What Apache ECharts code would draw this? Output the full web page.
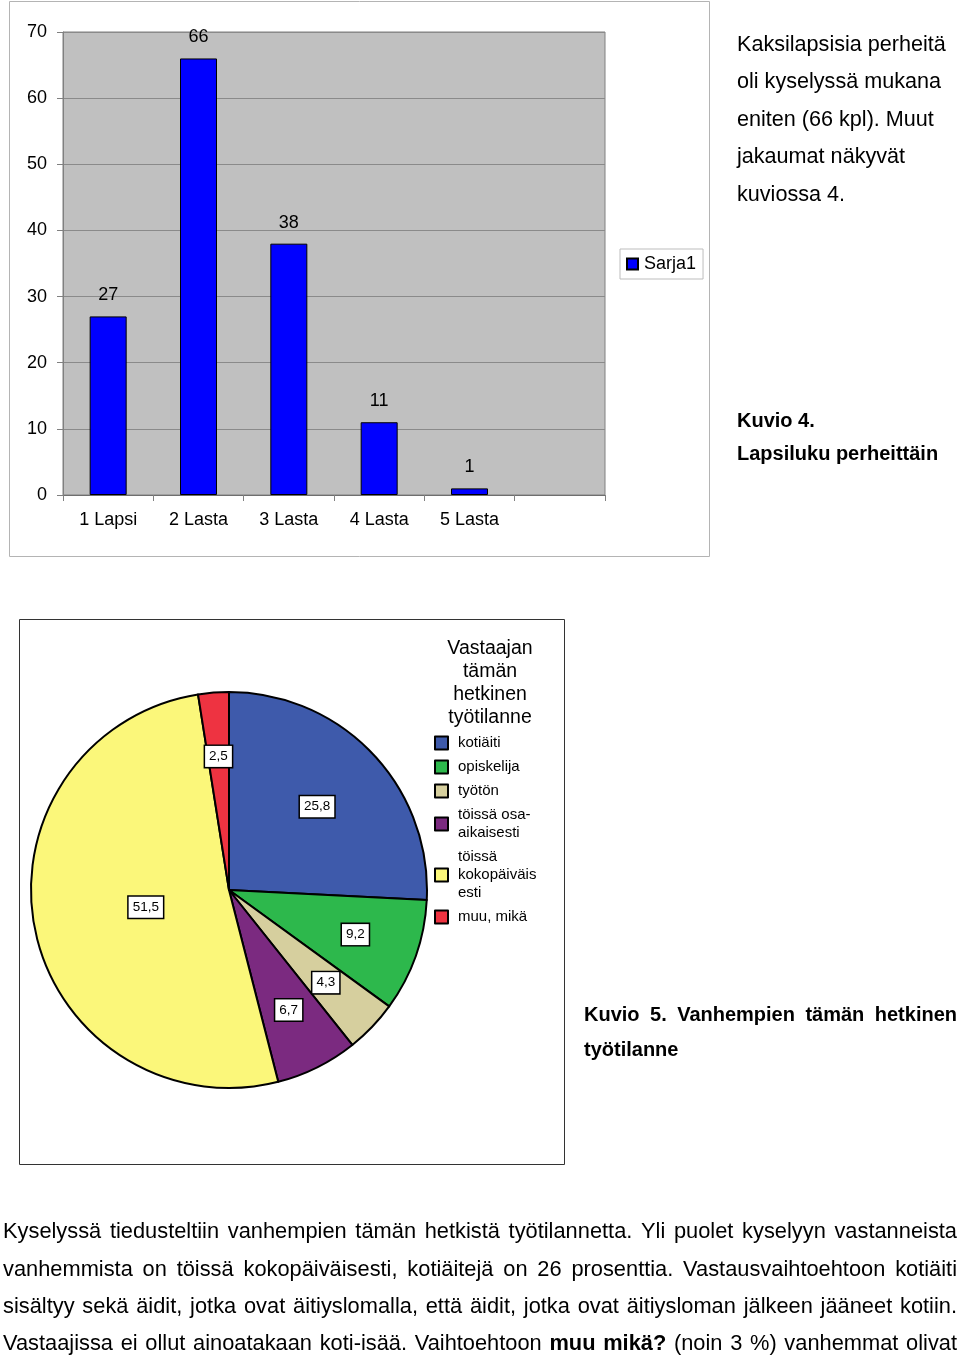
<!DOCTYPE html>
<html><head><meta charset="utf-8">
<script src="https://cdn.jsdelivr.net/npm/echarts/dist/echarts.min.js"></script>
<style>html,body{margin:0;padding:0;background:#fff}#c{width:960px;height:1360px}</style>
</head><body><div id="c"></div>
<script>
// ---------- data ----------
const barCategories = ['1 Lapsi', '2 Lasta', '3 Lasta', '4 Lasta', '5 Lasta', ''];
const barValues = [27, 66, 38, 11, 1, null];
const barSeriesName = 'Sarja1';
const yMin = 0, yMax = 70, yStep = 10;

const pieCategories = ['kotiäiti', 'opiskelija', 'työtön', 'töissä osa-aikaisesti', 'töissä kokopäiväisesti', 'muu, mikä'];
const pieLegendLabels = ['kotiäiti', 'opiskelija', 'työtön', 'töissä osa-\naikaisesti', 'töissä\nkokopäiväis\nesti', 'muu, mikä'];
const pieValues = [25.8, 9.2, 4.3, 6.7, 51.5, 2.5];
const pieColors = ['#3E5AAB', '#2DB84C', '#D6CF9E', '#7B2A80', '#FBF77A', '#EE3341'];
const pieTitle = 'Vastaajan\ntämän\nhetkinen\ntyötilanne';

const sideText = ['Kaksilapsisia perheitä', 'oli kyselyssä mukana', 'eniten (66 kpl). Muut', 'jakaumat näkyvät', 'kuviossa 4.'];
const caption4 = ['Kuvio 4.', 'Lapsiluku perheittäin'];
const caption5 = ['Kuvio 5. Vanhempien tämän hetkinen', 'työtilanne'];
const paragraph = [
  'Kyselyssä tiedusteltiin vanhempien tämän hetkistä työtilannetta. Yli puolet kyselyyn vastanneista',
  'vanhemmista on töissä kokopäiväisesti, kotiäitejä on 26 prosenttia. Vastausvaihtoehtoon kotiäiti',
  'sisältyy sekä äidit, jotka ovat äitiyslomalla, että äidit, jotka ovat äitiysloman jälkeen jääneet kotiin.',
  'Vastaajissa ei ollut ainoatakaan koti-isää. Vaihtoehtoon *muu* *mikä?* (noin 3 %) vanhemmat olivat'
];

// ---------- helpers ----------
const FONT = '"Liberation Sans", Arial, sans-serif';
const mctx = document.createElement('canvas').getContext('2d');
function measure(t, font) { mctx.font = font; return mctx.measureText(t).width; }

function justified(line, x0, x1, y, size, family, allBold, sx) {
  sx = sx || 1;
  const words = line.split(' ').map(w => {
    const b = allBold || (w.startsWith('*') && w.endsWith('*'));
    return { t: w.replace(/\*/g, ''), b };
  });
  const fonts = words.map(w => (w.b ? 'bold ' : '') + size + 'px ' + family);
  const widths = words.map((w, i) => measure(w.t, fonts[i]) * sx);
  const total = widths.reduce((a, b) => a + b, 0);
  const gap = (x1 - x0 - total) / (words.length - 1);
  let x = x0;
  return words.map((w, i) => {
    const el = { type: 'text', silent: true, x: x, y: y, scaleX: sx,
      style: { text: w.t, font: fonts[i], fill: '#000', textVerticalAlign: 'middle' } };
    x += widths[i] + gap;
    return el;
  });
}
function plain(text, x, y, size, bold, family) {
  return { type: 'text', silent: true, x: x, y: y,
    style: { text: text, font: (bold ? 'bold ' : '') + size + 'px ' + (family || FONT), fill: '#000', textVerticalAlign: 'middle' } };
}

const graphics = [
  { type: 'rect', silent: true, z: -1, shape: { x: 9.5, y: 1.5, width: 700, height: 555 }, style: { fill: null, stroke: '#b4b4b4', lineWidth: 1 } },
  { type: 'rect', silent: true, z: -1, shape: { x: 19.5, y: 619.5, width: 545, height: 545 }, style: { fill: null, stroke: '#333', lineWidth: 1 } },
  { type: 'text', silent: true, x: 490, y: 637, style: { text: pieTitle, font: '19.5px ' + FONT, lineHeight: 23, textAlign: 'center', textVerticalAlign: 'top', fill: '#000' } }
];
sideText.forEach((t, i) => graphics.push(plain(t, 737, 45 + i * 37.5, 21.6, false)));
caption4.forEach((t, i) => graphics.push(plain(t, 737, 421 + i * 33, 20, true)));
graphics.push(...justified(caption5[0], 584, 957, 1015, 20, FONT, true));
graphics.push(plain(caption5[1], 584, 1050, 20, true));
paragraph.forEach((l, i) => graphics.push(...justified(l, 3, 957, 1232 + i * 37.4, 22.5, FONT, false, 0.97)));

const fmtNum = v => String(v).replace('.', ',');
const labelNudge = { 0: [-9, 9], 4: [48, -10] };

const chart = echarts.init(document.getElementById('c'), null, { renderer: 'canvas' });
chart.setOption({
  animation: false,
  backgroundColor: '#fff',
  textStyle: { fontFamily: FONT },
  grid: { left: 63, top: 32, width: 542, height: 463, show: true, backgroundColor: '#C0C0C0', borderColor: '#808080', borderWidth: 1, outerBoundsMode: 'none', containLabel: false },
  legend: [
    { data: [barSeriesName], left: 620, top: 249, orient: 'horizontal', selectedMode: false,
      backgroundColor: '#fff', borderColor: '#bdbdbd', borderWidth: 1, borderRadius: 0, padding: [6, 7, 6, 6],
      icon: 'rect', itemWidth: 11, itemHeight: 11, itemGap: 5,
      textStyle: { fontSize: 18, color: '#000', fontFamily: FONT, padding: [0, 0, 0, 1] } },
    { data: pieCategories, left: 434, top: 734, orient: 'vertical', selectedMode: false, padding: 0,
      icon: 'rect', itemWidth: 13, itemHeight: 13, itemGap: 6,
      formatter: n => pieLegendLabels[pieCategories.indexOf(n)],
      textStyle: { fontSize: 15, lineHeight: 18, color: '#000', fontFamily: FONT, padding: [0, 0, 0, 5] } }
  ],
  xAxis: { type: 'category', data: barCategories, boundaryGap: true,
    axisLine: { show: true, lineStyle: { color: '#6e6e6e', width: 1 } },
    axisTick: { show: true, length: 6, inside: false, alignWithLabel: false, lineStyle: { color: '#808080' } },
    axisLabel: { fontSize: 18, color: '#000', margin: 16, fontFamily: FONT },
    splitLine: { show: false } },
  yAxis: { type: 'value', min: yMin, max: yMax, interval: yStep,
    axisLine: { show: true, lineStyle: { color: '#808080' } },
    axisTick: { show: true, length: 6, inside: false, lineStyle: { color: '#808080' } },
    axisLabel: { fontSize: 18, color: '#000', margin: 16, fontFamily: FONT },
    splitLine: { show: true, lineStyle: { color: '#8a8a8a', width: 1 } } },
  series: [
    { type: 'bar', name: barSeriesName, data: barValues, barWidth: 37,
      itemStyle: { color: '#0000FF', borderColor: '#000', borderWidth: 1 },
      label: { show: true, position: 'top', distance: 12, fontSize: 18, color: '#000', fontFamily: FONT },
      emphasis: { disabled: true } },
    { type: 'pie', name: 'tilanne', center: [229, 890], radius: [0, 198], startAngle: 90, clockwise: true,
      avoidLabelOverlap: false, label: { show: false }, labelLine: { show: false },
      itemStyle: { borderColor: '#000', borderWidth: 2 }, emphasis: { disabled: true }, silent: true,
      data: pieCategories.map((n, i) => ({ name: n, value: pieValues[i], itemStyle: { color: pieColors[i] } })) },
    { type: 'pie', name: 'tilanne-labels', center: [229, 890], radius: [0, 262], startAngle: 90, clockwise: true,
      avoidLabelOverlap: false, silent: true, emphasis: { disabled: true }, z: 5,
      itemStyle: { color: 'rgba(0,0,0,0)', borderWidth: 0 },
      labelLine: { show: false },
      label: { show: true, position: 'inside', formatter: p => fmtNum(p.value), fontSize: 13.5, color: '#000', fontFamily: FONT,
        backgroundColor: '#fff', borderColor: '#000', borderWidth: 1.5, padding: [4, 4, 3, 4] },
      data: pieCategories.map((n, i) => ({ name: n, value: pieValues[i],
        label: labelNudge[i] ? { offset: labelNudge[i] } : {} })) }
  ],
  graphic: graphics
});
</script></body></html>
